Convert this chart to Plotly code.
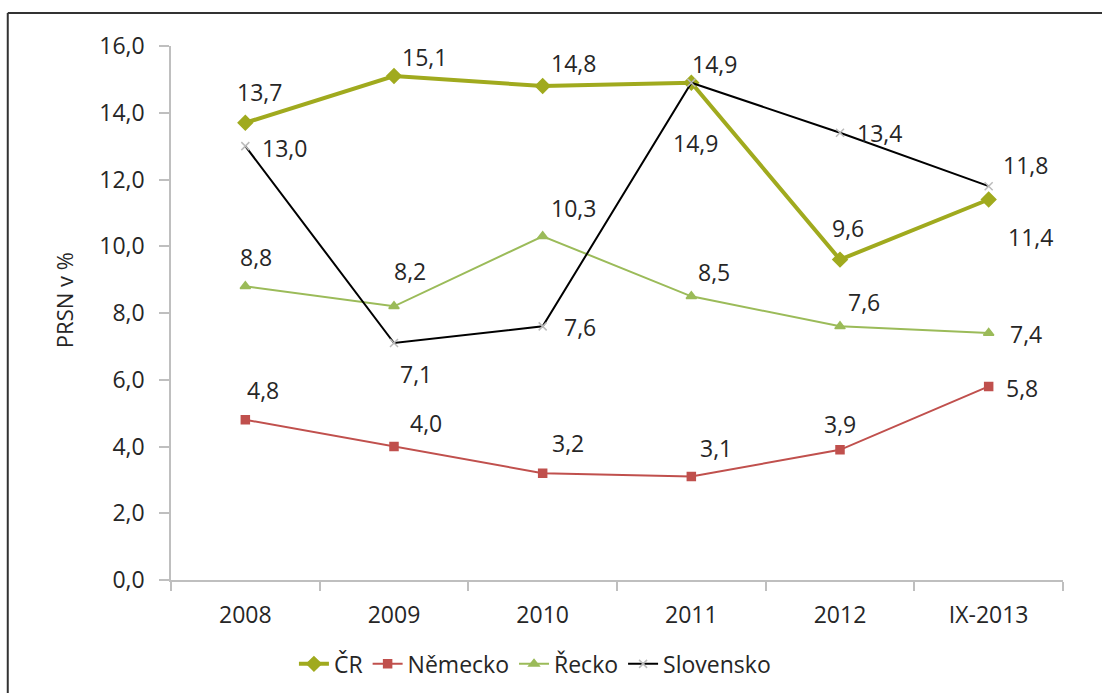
import plotly.graph_objects as go

categories = ["2008", "2009", "2010", "2011", "2012", "IX-2013"]
cr = [13.7, 15.1, 14.8, 14.9, 9.6, 11.4]
nemecko = [4.8, 4.0, 3.2, 3.1, 3.9, 5.8]
recko = [8.8, 8.2, 10.3, 8.5, 7.6, 7.4]
slovensko = [13.0, 7.1, 7.6, 14.9, 13.4, 11.8]

y_ticks = [0, 2, 4, 6, 8, 10, 12, 14, 16]

FONT = "Open Sans"
TXT = "#262626"
FS = 23

series = [
    dict(name="ČR", y=cr, color="#A0AA1E", width=4, symbol="diamond", msize=11, mcolor="#A0AA1E",
         offs=[(14, -31), (30, -19), (31, -23), (23, -19), (8, -32), (42, 37)]),
    dict(name="Německo", y=nemecko, color="#C0504D", width=2, symbol="square", msize=8, mcolor="#C0504D",
         offs=[(18, -30), (32, -24), (25, -30), (25, -29), (0, -26), (33, 2)]),
    dict(name="Řecko", y=recko, color="#9BBB59", width=2, symbol="triangle-up", msize=9, mcolor="#9BBB59",
         offs=[(11, -29), (16, -35), (31, -28), (23, -24), (24, -24), (37, 1)]),
    dict(name="Slovensko", y=slovensko, color="#000000", width=2, symbol="x-thin", msize=8, mcolor="#BBBBBB",
         offs=[(39, 2), (22, 31), (37, 1), (4, 60), (39, 0), (37, -21)]),
]

fig = go.Figure()
annotations = []
for s in series:
    fig.add_trace(go.Scatter(
        x=categories, y=s["y"], name=s["name"], mode="lines+markers",
        line=dict(color=s["color"], width=s["width"]),
        marker=dict(symbol=s["symbol"], size=s["msize"], color=s["mcolor"],
                    line=dict(color=s["mcolor"], width=1.5)),
    ))
    for i, (v, (dx, dy)) in enumerate(zip(s["y"], s["offs"])):
        annotations.append(dict(
            x=i, y=v, xref="x", yref="y", text=f"{v:.1f}".replace(".", ","),
            showarrow=False, xshift=dx, yshift=-dy,
            font=dict(family=FONT, size=FS, color=TXT),
        ))

annotations.append(dict(
    x=-0.12, y=0.524, xref="paper", yref="paper", text="PRSN v %", textangle=-90,
    xanchor="center", yanchor="middle",
    showarrow=False, font=dict(family=FONT, size=22, color=TXT),
))

fig.update_layout(
    width=1102, height=693,
    margin=dict(l=171, r=39, t=46, b=113, autoexpand=False),
    paper_bgcolor="white", plot_bgcolor="white",
    separators=",.",
    font=dict(family=FONT, size=FS, color=TXT),
    showlegend=True,
    legend=dict(orientation="h", x=0.408, xanchor="center",
                yref="container", y=0.073, yanchor="top",
                font=dict(family=FONT, size=FS, color=TXT), itemwidth=30,
                tracegroupgap=0, traceorder="normal"),
    annotations=annotations,
    shapes=[
        dict(type="line", xref="paper", yref="paper", x0=-0.183, x1=-0.183, y0=-0.5, y1=1.062,
             line=dict(color="#333333", width=2)),
        dict(type="line", xref="paper", yref="paper", x0=-0.183, x1=1.5, y0=1.062, y1=1.062,
             line=dict(color="#333333", width=2)),
    ],
)

fig.update_xaxes(
    type="category", range=[-0.5, 5.5], automargin=False,
    showline=True, linecolor="#BFBFBF", linewidth=1.5,
    ticks="outside", tickson="boundaries", ticklen=9, tickcolor="#BFBFBF", tickwidth=1.5,
    ticklabelstandoff=14,
    showgrid=False, zeroline=False,
    tickfont=dict(family=FONT, size=FS, color=TXT),
)
fig.update_yaxes(
    range=[0, 16], tickvals=y_ticks, tickformat=".1f", automargin=False,
    showline=True, linecolor="#BFBFBF", linewidth=1.5,
    ticks="outside", ticklen=10, tickcolor="#BFBFBF", tickwidth=1.5,
    ticklabelstandoff=10,
    showgrid=False, zeroline=False,
    tickfont=dict(family=FONT, size=FS, color=TXT),
)

fig.write_html("out.html")
